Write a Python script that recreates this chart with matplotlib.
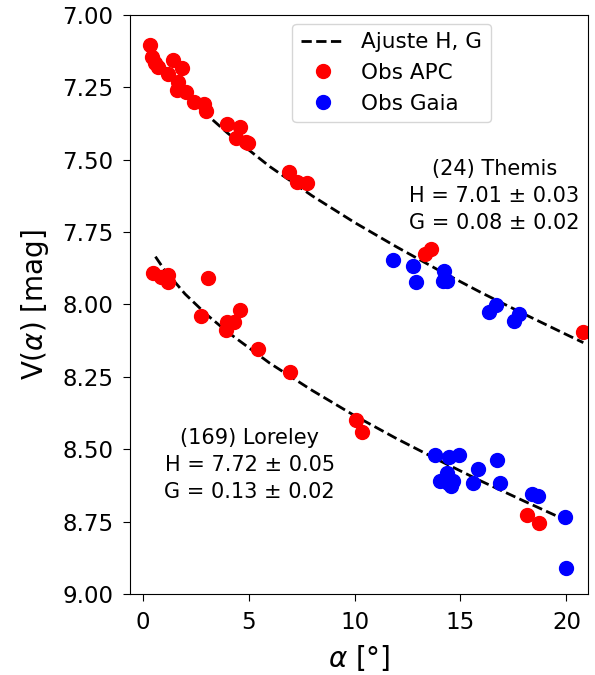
import numpy as np
import matplotlib
matplotlib.use('Agg')
import matplotlib.pyplot as plt

# (24) Themis - observaciones
themis_apc_alpha = [0.33, 0.43, 0.57, 0.71, 1.42, 1.84, 1.18, 1.65, 1.61, 2.03, 2.41, 2.88, 2.98,
                    3.97, 4.59, 4.40, 4.87, 4.96, 6.90, 7.28, 7.75, 13.33, 13.62, 20.80]
themis_apc_v = [7.104, 7.145, 7.166, 7.180, 7.155, 7.183, 7.204, 7.231, 7.259, 7.266, 7.301, 7.307, 7.332,
                7.377, 7.387, 7.425, 7.439, 7.442, 7.542, 7.577, 7.580, 7.826, 7.808, 8.095]
themis_gaia_alpha = [11.82, 12.77, 12.91, 14.23, 14.18, 14.37, 16.69, 16.36, 17.78, 17.54]
themis_gaia_v = [7.846, 7.867, 7.922, 7.884, 7.919, 7.919, 8.002, 8.026, 8.033, 8.057]

# (169) Loreley - observaciones
loreley_apc_alpha = [0.47, 0.85, 1.18, 1.18, 3.07, 2.74, 4.59, 4.30, 3.97, 3.92, 5.44, 6.95,
                     10.07, 10.35, 18.16, 18.72]
loreley_apc_v = [7.891, 7.905, 7.898, 7.922, 7.908, 8.040, 8.019, 8.060, 8.060, 8.088, 8.154, 8.233,
                 8.399, 8.440, 8.727, 8.755]
loreley_gaia_alpha = [13.81, 14.47, 14.94, 16.74, 15.84, 14.37, 14.04, 14.42, 14.66, 14.56, 15.60,
                      16.88, 18.39, 18.68, 19.95, 20.00]
loreley_gaia_v = [8.520, 8.527, 8.520, 8.537, 8.568, 8.582, 8.610, 8.617, 8.610, 8.627, 8.617,
                  8.617, 8.655, 8.661, 8.734, 8.910]

# curvas de ajuste H, G
themis_fit_alpha = [0.6, 1, 2, 3, 4, 6, 8, 10, 12, 14, 16, 18, 20, 20.8]
themis_fit_v = [7.132, 7.177, 7.268, 7.343, 7.408, 7.524, 7.625, 7.717, 7.802, 7.883, 7.960, 8.033, 8.104, 8.132]
loreley_fit_alpha = [0.6, 1, 2, 3, 4, 6, 8, 10, 12, 14, 16, 18, 20]
loreley_fit_v = [7.835, 7.878, 7.964, 8.034, 8.095, 8.203, 8.297, 8.384, 8.464, 8.539, 8.611, 8.679, 8.746]

themis_txt = '(24) Themis\nH = 7.01 ± 0.03\nG = 0.08 ± 0.02'
loreley_txt = '(169) Loreley\nH = 7.72 ± 0.05\nG = 0.13 ± 0.02'

fig = plt.figure(figsize=(5.95, 6.75), dpi=100)
ax = fig.add_axes([0.2185, 0.12, 0.769, 0.858])

ax.plot(themis_fit_alpha, themis_fit_v, 'k--', lw=2, label='Ajuste H, G')
ax.plot(loreley_fit_alpha, loreley_fit_v, 'k--', lw=2)

ax.plot(themis_apc_alpha, themis_apc_v, 'o', color='red', ms=10, label='Obs APC')
ax.plot(loreley_apc_alpha, loreley_apc_v, 'o', color='red', ms=10)
ax.plot(themis_gaia_alpha, themis_gaia_v, 'o', color='blue', ms=10, label='Obs Gaia')
ax.plot(loreley_gaia_alpha, loreley_gaia_v, 'o', color='blue', ms=10)

ax.text(16.6, 7.625, themis_txt, ha='center', va='center', fontsize=15,
        multialignment='center', linespacing=1.45)
ax.text(5.05, 8.555, loreley_txt, ha='center', va='center', fontsize=15,
        multialignment='center', linespacing=1.45)

ax.set_xlim(-0.6, 21)
ax.set_ylim(9.0, 7.0)
ax.set_yticks(np.arange(7.0, 9.01, 0.25))
ax.set_xticks([0, 5, 10, 15, 20])
ax.tick_params(labelsize=16.5, length=5, pad=7)
ax.set_xlabel(r'$\alpha$ [°]', fontsize=20, labelpad=7)
ax.set_ylabel(r'V($\alpha$) [mag]', fontsize=20, labelpad=8)
ax.legend(loc='upper left', bbox_to_anchor=(0.355, 0.985), borderaxespad=0, fontsize=15.5)

fig.savefig('out.png', dpi=100)
